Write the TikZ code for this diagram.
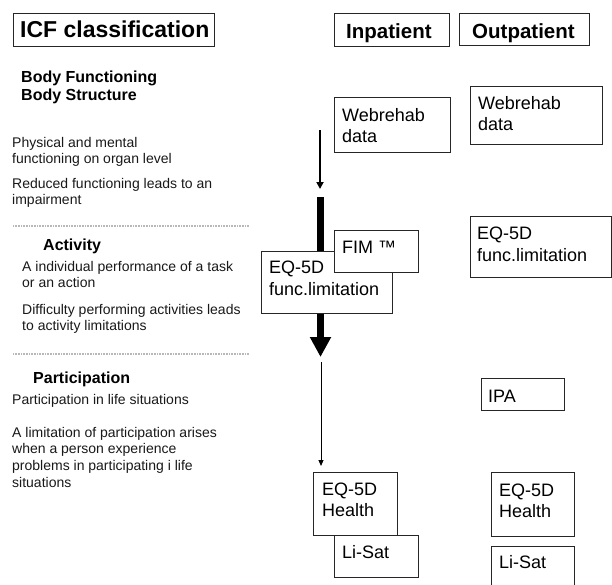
\documentclass[tikz,border=0pt]{standalone}
\usepackage{fontspec}
\setmainfont{Liberation Sans}
\usetikzlibrary{arrows.meta}
\begin{document}
\begin{tikzpicture}[x=1pt,y=-1pt,
  box/.style={draw=black!85, line width=0.9pt, fill=white, inner sep=0pt, anchor=north west},
  boxtxt/.style={inner sep=0pt, anchor=base west, align=left, font=\fontsize{18}{20.5}\selectfont},
  head/.style={inner sep=0pt, anchor=base west, font=\bfseries\fontsize{20.5}{24}\selectfont},
  sect/.style={inner sep=0pt, anchor=base west, align=left, font=\bfseries\fontsize{16}{18}\selectfont},
  body/.style={inner sep=0pt, anchor=base west, align=left, font=\fontsize{14}{15.7}\selectfont, text=black!90},
  sepline/.style={draw=gray!55, line width=1.5pt, dash pattern=on 1pt off 0.6pt},
  thinarrow/.style={draw=black, line width=1.8pt, -{Triangle[width=7pt,length=7pt]}},
  thickarrow/.style={draw=black, line width=7pt, -{Triangle[width=20pt,length=20pt]}},
  fineArrow/.style={draw=black, line width=1pt, -{Triangle[width=5pt,length=6pt]}},
]
\useasboundingbox (0,0) rectangle (612,584);
\clip (0,0) rectangle (612,584);
\fill[white] (0,0) rectangle (612,584);

% headers
\node[box, line width=1.3pt, minimum width=201pt, minimum height=33pt] (icf) at (13,13) {};
\node[inner sep=0pt, anchor=base west, font=\bfseries\fontsize{23}{26}\selectfont] (icft) at (20,37) {ICF classification};
\node[box, minimum width=115pt, minimum height=33pt] (inp) at (334,13) {};
\node[head] (inpt) at (346,38) {Inpatient};
\node[box, minimum width=130pt, minimum height=32pt] (outp) at (459,13) {};
\node[head] (outpt) at (472,38) {Outpatient};

% left column (anchor base = baseline of the last line)
\node[sect] (bf) at (21,100) {Body Functioning\\Body Structure};
\node[body] (t1) at (12,163) {Physical and mental\\functioning on organ level};
\node[body] (t2) at (12,204.5) {Reduced functioning leads to an\\impairment};
\coordinate (s1a) at (13,226); \coordinate (s1b) at (249,226);
\draw[sepline] (s1a) -- (s1b);
\node[sect] (act) at (43,250) {Activity};
\node[body] (t3) at (22,287.5) {A individual performance of a task\\or an action};
\node[body] (t4) at (22,330) {Difficulty performing activities leads\\to activity limitations};
\coordinate (s2a) at (13,354); \coordinate (s2b) at (249,354);
\draw[sepline] (s2a) -- (s2b);
\node[sect] (par) at (33,383) {Participation};
\node[body] (t5) at (12,404) {Participation in life situations};
\node[body, font=\fontsize{14}{16.6}\selectfont] (t6) at (12,487) {A limitation of participation arises\\when a person experience\\problems in participating i life\\situations};

% arrows
\coordinate (a1s) at (320,130); \coordinate (a1e) at (320,189);
\draw[thinarrow] (a1s) -- (a1e);
\coordinate (a2s) at (320.5,197); \coordinate (a2e) at (320.5,357);
\draw[thickarrow] (a2s) -- (a2e);
\coordinate (a3s) at (321,362); \coordinate (a3e) at (321,466);
\draw[fineArrow] (a3s) -- (a3e);

% inpatient boxes
\node[box, minimum width=116pt, minimum height=55pt] (wi) at (334,97) {};
\node[boxtxt] (wit) at (342,142) {Webrehab\\data};
\node[box, minimum width=131pt, minimum height=62pt] (eqfi) at (261,251) {};
\node[boxtxt, font=\fontsize{18}{22}\selectfont] (eqfit) at (269,295) {EQ-5D\\func.limitation};
\node[box, minimum width=84pt, minimum height=42pt] (fim) at (334,230) {};
\node[boxtxt] (fimt) at (342,253) {FIM ™};
\node[box, minimum width=84pt, minimum height=63pt] (ehi) at (313,472) {};
\node[boxtxt] (ehit) at (322,516) {EQ-5D\\Health};
\node[box, minimum width=84pt, minimum height=42pt] (lsi) at (334,535) {};
\node[boxtxt] (lsit) at (342,558) {Li-Sat};

% outpatient boxes
\node[box, minimum width=132pt, minimum height=58pt] (wo) at (470,86) {};
\node[boxtxt] (wot) at (478,130) {Webrehab\\data};
\node[box, minimum width=141pt, minimum height=61pt] (eqfo) at (470,216) {};
\node[boxtxt, font=\fontsize{18}{22}\selectfont] (eqfot) at (477,261) {EQ-5D\\func.limitation};
\node[box, minimum width=83pt, minimum height=32pt] (ipa) at (481,378) {};
\node[boxtxt] (ipat) at (488,402) {IPA};
\node[box, minimum width=83pt, minimum height=64pt] (eho) at (491,472) {};
\node[boxtxt] (ehot) at (499,517) {EQ-5D\\Health};
\node[box, minimum width=83pt, minimum height=50pt] (lso) at (491,546) {};
\node[boxtxt] (lsot) at (499,568) {Li-Sat};
\end{tikzpicture}
\end{document}
